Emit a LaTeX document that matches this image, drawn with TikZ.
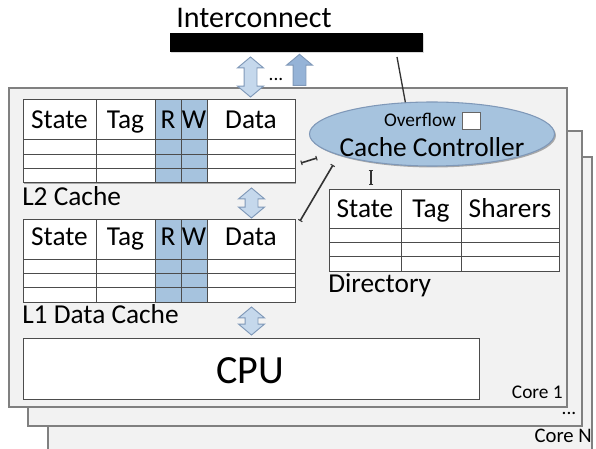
\documentclass[tikz,border=0pt]{standalone}
\usepackage{fontspec}
\setmainfont{Carlito}
\usetikzlibrary{shapes.geometric,shapes.arrows,shadows,arrows.meta}

\definecolor{coregray}{HTML}{F2F2F2}
\definecolor{edgegray}{HTML}{808080}
\definecolor{bitblue}{HTML}{A6C3DE}
\definecolor{pipeblue}{HTML}{C5D8EC}
\definecolor{pipeedge}{HTML}{7F98B8}
\definecolor{upblue}{HTML}{95B3D7}

\tikzset{
  shade/.style={drop shadow={shadow xshift=1.1pt,shadow yshift=-1.1pt,opacity=0.3,fill=black}},
  core/.style={fill=coregray,draw=edgegray,line width=0.9pt,shade},
  tbl/.style={draw=black!70,line width=0.75pt},
  txt/.style={inner sep=0pt,anchor=base,font=\fontsize{20.5}{24}\selectfont},
  small/.style={inner sep=0pt,anchor=base,font=\fontsize{14.5}{17}\selectfont},
  pipe/.style={double arrow,rotate=90,draw=pipeedge,fill=pipeblue,line width=0.7pt,
    inner sep=4.5pt,double arrow head extend=4.9pt,double arrow tip angle=100},
  uppipe/.style={single arrow,rotate=90,draw=pipeedge,fill=upblue,line width=0.7pt,
    inner sep=4.5pt,single arrow head extend=4.9pt,single arrow tip angle=100},
  link/.style={black!80,line width=1.2pt,{Bar[width=3.5pt,line width=0.8pt]}-{Bar[width=3.5pt,line width=0.8pt]}},
}

\begin{document}
\begin{tikzpicture}[x=0.75pt,y=-0.75pt]
  \clip (0,0) rectangle (596,449);

  % cores, back to front
  \draw[core] (48,157) rectangle (592,470);
  \draw[core] (28,131) rectangle (582,426);
  \draw[core] (9,88) rectangle (567,407);

  % interconnect
  \node[txt,font=\fontsize{22.5}{26}\selectfont] (netlbl) at (254,28) {Interconnect};
  \node[fill=black,inner sep=0pt,minimum width=189.75pt,minimum height=14.25pt,
    drop shadow={shadow xshift=1pt,shadow yshift=-1pt,opacity=0.3}] (net) at (296.5,42.5) {};

  % pipes
  \node[pipe,minimum height=30pt] (p0) at (250.5,77) {};
  \node[small] (pdots) at (276,81) {...};
  \node[uppipe,minimum height=23.25pt] (p1) at (299.5,72.5) {};
  \node[pipe,minimum height=22.5pt] (p2) at (251.5,203) {};
  \node[pipe,minimum height=21pt] (p3) at (251.5,321) {};

  % L2 and L1 tables
  \foreach \dy/\tb/\bl in {0/ltwo/129,119/lone/245}{
    \fill[white,shade] (23,100+\dy) rectangle (295,183+\dy);
    \fill[bitblue] (155,100+\dy) rectangle (207,183+\dy);
    \draw[tbl] (23,100+\dy) rectangle (295,183+\dy);
    \foreach \y in {140,154.33,168.67}
      \draw[tbl] (23,\y+\dy) -- (295,\y+\dy);
    \foreach \x in {96,155,181,207}
      \draw[tbl] (\x,100+\dy) -- (\x,183+\dy);
    \node[txt] (\tb-state) at (59.5,\bl) {State};
    \node[txt] (\tb-tag) at (125.5,\bl) {Tag};
    \node[txt] (\tb-r) at (168,\bl) {R};
    \node[txt] (\tb-w) at (194,\bl) {W};
    \node[txt] (\tb-data) at (251,\bl) {Data};
  }
  \node[txt,anchor=base west] (ltwolbl) at (22,205) {L2 Cache};
  \node[txt,anchor=base west] (lonelbl) at (22,323) {L1 Data Cache};

  % directory
  \fill[white,shade] (329,190) rectangle (559,271);
  \draw[tbl] (329,190) rectangle (559,271);
  \foreach \y in {228,242.33,256.67}
    \draw[tbl] (329,\y) -- (559,\y);
  \foreach \x in {401,461}
    \draw[tbl] (\x,190) -- (\x,271);
  \node[txt] (dir-state) at (365,217) {State};
  \node[txt] (dir-tag) at (431,217) {Tag};
  \node[txt] (dir-sharers) at (510,217) {Sharers};
  \node[txt,anchor=base west] (dirlbl) at (328,292) {Directory};

  % cache controller
  \node[ellipse,fill=bitblue,draw=pipeedge,line width=0.8pt,minimum width=183.75pt,
    minimum height=48pt,shade] (ctrl) at (432,134) {};
  \node[small] (ovf) at (420,127) {Overflow};
  \node[draw=black!60,fill=white,line width=0.6pt,inner sep=0pt,minimum width=14pt,
    minimum height=12.75pt] (ovfbit) at (471.5,120.5) {};
  \node[txt,font=\fontsize{20.5}{24}\selectfont] (ctrltxt) at (432,157) {Cache Controller};

  % cpu
  \draw[tbl,fill=white,shade] (23,338) rectangle (479,399);
  \node[txt,font=\fontsize{30}{34}\selectfont] (cpu) at (250,383) {CPU};

  % core labels
  \node[small,anchor=base east] (core1) at (563,398) {Core 1};
  \node[small] (coredots) at (569,414) {...};
  \node[small,anchor=base east,font=\fontsize{15.5}{18}\selectfont] (coren) at (592,442) {Core N};

  % links
  \coordinate (netend) at (397,57);
  \coordinate (ltwoend) at (301,163);
  \coordinate (ctrlw) at (317,158);
  \coordinate (loneend) at (300,221);
  \coordinate (ctrlsw) at (333,165);
  \coordinate (ctrls) at (371,170);
  \coordinate (dirn) at (371,185);
  \draw[black!80,line width=1pt] (netend) -- (ctrl.130);
  \draw[link] (ltwoend) -- (ctrlw);
  \draw[link] (loneend) -- (ctrlsw);
  \draw[link] (ctrls) -- (dirn);
\end{tikzpicture}
\end{document}
